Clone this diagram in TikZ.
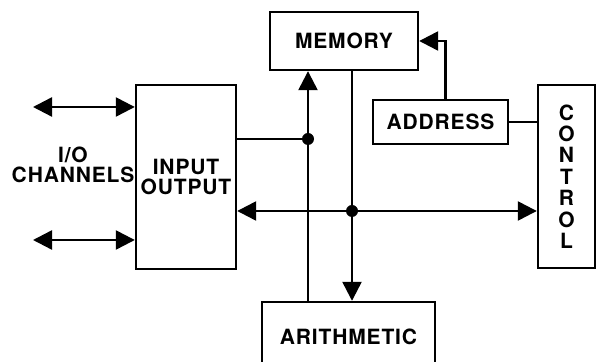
\documentclass[tikz,border=0pt]{standalone}
\usepackage{fontspec}
\setmainfont{TeX Gyre Heros}[LetterSpace=4]
\usetikzlibrary{arrows.meta}

\begin{document}
\begin{tikzpicture}[x=0.5pt,y=-0.5pt,line width=1.2pt,font=\bfseries\fontsize{10.5}{10}\selectfont]
  % Frame
  \useasboundingbox (0,0) rectangle (600,362);

  % Styles
  \tikzstyle{block}=[draw,inner sep=0pt,align=center]
  \tikzstyle{bus}=[-{Triangle[length=9.5pt,width=9.5pt]}]
  \tikzstyle{dbus}=[{Triangle[length=9.5pt,width=9.5pt]}-{Triangle[length=9.5pt,width=9.5pt]}]

  % Blocks
  \node[block,minimum width=74pt,minimum height=29pt]   (mem)   at (344,41)    {MEMORY};
  \node[block,minimum width=50pt,minimum height=92pt]   (io)    at (186,177)   {INPUT\\OUTPUT};
  \node[block,minimum width=67.5pt,minimum height=22pt] (addr)  at (440.5,122) {ADDRESS};
  \node[block,minimum width=28.5pt,minimum height=91.5pt,
        font=\bfseries\fontsize{10.5}{10.7}\selectfont] (ctrl)  at (566.5,176.5) {C\\O\\N\\T\\R\\O\\L};
  \node[block,minimum width=86.5pt,minimum height=35pt] (arith) at (348.5,337) {ARITHMETIC};

  \node[align=center] (chan) at (73,165) {I/O\\CHANNELS};

  % Key Points
  \coordinate (ch1) at (33,107);
  \coordinate (ch2) at (33,240);
  \coordinate (j1)  at (308,139);
  \coordinate (j2)  at (352,211);

  % Channels
  \draw[dbus] (ch1) -- (io.west |- ch1);
  \draw[dbus] (ch2) -- (io.west |- ch2);

  % Buses
  \draw[bus] (arith.north -| j1) -- (mem.south -| j1);
  \draw[bus] (mem.south -| j2) -- (arith.north -| j2);
  \draw (io.east |- j1) -- (j1);
  \draw[dbus] (io.east |- j2) -- (ctrl.west |- j2);
  \draw[bus] ([xshift=2.5pt]addr.north) |- (mem.east);
  \draw (addr.east) -- (ctrl.west |- addr.east);

  % Junctions
  \fill (j1) circle (3pt);
  \fill (j2) circle (3pt);
\end{tikzpicture}
\end{document}
